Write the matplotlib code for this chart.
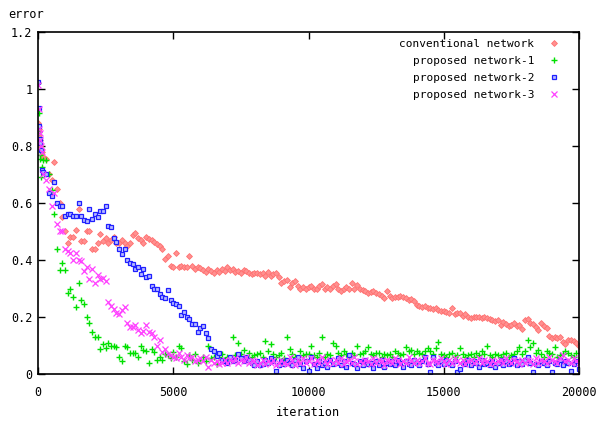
import matplotlib
matplotlib.use("Agg")
import matplotlib.pyplot as plt
from matplotlib.ticker import FuncFormatter

# iteration grid (denser at the start)
iters = [0, 20, 40, 60, 80, 100, 150, 200, 300, 400, 500] + list(range(600, 20001, 100))

conventional = [
    0.88, 0.86, 0.84, 0.82, 0.8, 0.79, 0.78, 0.76, 0.755, 0.7, 0.68,
    0.745, 0.65, 0.6, 0.55,
    0.5, 0.46, 0.48, 0.48, 0.505, 0.58, 0.465, 0.465, 0.5, 0.5,
    0.44, 0.44, 0.46, 0.49, 0.465, 0.477, 0.46, 0.47, 0.48, 0.46,
    0.46, 0.47, 0.46, 0.45, 0.46, 0.487, 0.494, 0.477, 0.47, 0.46,
    0.48, 0.475, 0.47, 0.462, 0.455, 0.45, 0.44, 0.403, 0.414, 0.38,
    0.376, 0.425, 0.376, 0.38, 0.376, 0.375, 0.414, 0.378, 0.37, 0.375,
    0.372, 0.365, 0.358, 0.37, 0.36, 0.355, 0.365, 0.358, 0.37, 0.362,
    0.376, 0.365, 0.37, 0.358, 0.362, 0.355, 0.365, 0.36, 0.354, 0.35,
    0.356, 0.354, 0.35, 0.355, 0.345, 0.358, 0.345, 0.35, 0.354, 0.34,
    0.32, 0.326, 0.33, 0.305, 0.32, 0.326, 0.31, 0.3, 0.305, 0.3,
    0.305, 0.308, 0.3, 0.3, 0.31, 0.315, 0.3, 0.305, 0.3, 0.31,
    0.315, 0.3, 0.29, 0.3, 0.305, 0.3, 0.32, 0.3, 0.312, 0.3,
    0.295, 0.29, 0.285, 0.288, 0.29, 0.285, 0.28, 0.275, 0.265, 0.29,
    0.275, 0.268, 0.27, 0.27, 0.274, 0.27, 0.265, 0.26, 0.263, 0.255,
    0.242, 0.24, 0.235, 0.238, 0.232, 0.23, 0.228, 0.23, 0.225, 0.222,
    0.22, 0.218, 0.213, 0.23, 0.21, 0.215, 0.213, 0.205, 0.21, 0.2,
    0.196, 0.2, 0.2, 0.2, 0.198, 0.2, 0.195, 0.193, 0.19, 0.186,
    0.19, 0.172, 0.182, 0.175, 0.168, 0.172, 0.179, 0.17, 0.172, 0.158,
    0.19, 0.193, 0.18, 0.175, 0.165, 0.154, 0.179, 0.17, 0.16, 0.133,
    0.126, 0.13, 0.128, 0.13, 0.112, 0.105, 0.12, 0.118, 0.116, 0.11,
    0.098,
]

proposed1 = [
    1.02, 0.915, 0.85, 0.77, 0.755, 0.69, 0.725, 0.75, 0.75, 0.7, 0.645,
    0.56, 0.44, 0.365, 0.39,
    0.365, 0.285, 0.3, 0.27, 0.235, 0.32, 0.26, 0.245, 0.2, 0.18,
    0.148, 0.13, 0.13, 0.088, 0.105, 0.09, 0.108, 0.1, 0.1, 0.095,
    0.06, 0.045, 0.1, 0.095, 0.075, 0.072, 0.075, 0.06, 0.1, 0.085,
    0.082, 0.04, 0.088, 0.077, 0.05, 0.06, 0.05, 0.07, 0.065, 0.055,
    0.077, 0.06, 0.098, 0.09, 0.045, 0.035, 0.065, 0.05, 0.07, 0.04,
    0.05, 0.06, 0.045, 0.1, 0.055, 0.06, 0.035, 0.06, 0.07, 0.05,
    0.06, 0.055, 0.13, 0.065, 0.108, 0.07, 0.085, 0.05, 0.075, 0.06,
    0.065, 0.07, 0.075, 0.06, 0.115, 0.08, 0.105, 0.07, 0.06, 0.065,
    0.075, 0.055, 0.13, 0.088, 0.07, 0.06, 0.05, 0.08, 0.065, 0.07,
    0.07, 0.1, 0.065, 0.06, 0.075, 0.13, 0.06, 0.07, 0.065, 0.11,
    0.1, 0.075, 0.065, 0.08, 0.07, 0.06, 0.075, 0.065, 0.1, 0.07,
    0.075, 0.08, 0.095, 0.07, 0.065, 0.075, 0.075, 0.06, 0.07, 0.065,
    0.07, 0.06, 0.08, 0.075, 0.065, 0.07, 0.095, 0.08, 0.085, 0.07,
    0.08, 0.075, 0.07, 0.08, 0.09, 0.08, 0.07, 0.09, 0.113, 0.07,
    0.065, 0.06, 0.07, 0.075, 0.06, 0.065, 0.09, 0.07, 0.06, 0.065,
    0.07, 0.06, 0.075, 0.065, 0.08, 0.07, 0.1, 0.065, 0.06, 0.07,
    0.065, 0.06, 0.07, 0.075, 0.06, 0.065, 0.07, 0.08, 0.095, 0.07,
    0.08, 0.12, 0.095, 0.108, 0.075, 0.085, 0.07, 0.06, 0.08, 0.075,
    0.07, 0.095, 0.06, 0.065, 0.07, 0.08, 0.075, 0.065, 0.06, 0.075,
    0.05,
]

proposed2 = [
    1.025, 0.935, 0.87, 0.825, 0.81, 0.785, 0.715, 0.71, 0.7, 0.635, 0.625,
    0.675, 0.6, 0.59, 0.59,
    0.555, 0.56, 0.56, 0.555, 0.555, 0.6, 0.555, 0.54, 0.537, 0.58,
    0.544, 0.56, 0.55, 0.572, 0.572, 0.59, 0.52, 0.515, 0.477, 0.463,
    0.44, 0.42, 0.44, 0.4, 0.39, 0.385, 0.37, 0.375, 0.35, 0.37,
    0.34, 0.345, 0.31, 0.3, 0.3, 0.28, 0.27, 0.265, 0.295, 0.26,
    0.25, 0.245, 0.24, 0.207, 0.218, 0.2, 0.193, 0.175, 0.175, 0.148,
    0.16, 0.168, 0.145, 0.125, 0.088, 0.08, 0.063, 0.075, 0.05, 0.045,
    0.04, 0.06, 0.045, 0.05, 0.07, 0.055, 0.045, 0.06, 0.05, 0.04,
    0.03, 0.045, 0.03, 0.035, 0.05, 0.04, 0.055, 0.045, 0.01, 0.03,
    0.045, 0.035, 0.05, 0.04, 0.03, 0.05, 0.06, 0.035, 0.02, 0.045,
    0.01, 0.06, 0.035, 0.02, 0.045, 0.03, 0.04, 0.025, 0.05, 0.035,
    0.04, 0.055, 0.03, 0.045, 0.025, 0.065, 0.04, 0.035, 0.02, 0.045,
    0.03, 0.05, 0.035, 0.04, 0.02, 0.045, 0.03, 0.05, 0.025, 0.04,
    0.035, 0.045, 0.03, 0.05, 0.04, 0.025, 0.045, 0.035, 0.03, 0.05,
    0.04, 0.03, 0.045, 0.06, 0.035, 0.008, 0.06, 0.04, 0.03, 0.045,
    0.035, 0.05, 0.04, 0.03, 0.045, 0.008, 0.016, 0.04, 0.035, 0.05,
    0.03, 0.045, 0.04, 0.025, 0.05, 0.035, 0.04, 0.03, 0.045, 0.025,
    0.04, 0.05, 0.03, 0.045, 0.035, 0.04, 0.055, 0.03, 0.045, 0.035,
    0.05, 0.06, 0.04, 0.008, 0.035, 0.03, 0.045, 0.04, 0.03, 0.045,
    0.008, 0.04, 0.035, 0.05, 0.03, 0.045, 0.04, 0.01, 0.035, 0.045,
    0.016,
]

proposed3 = [
    1.015, 0.93, 0.86, 0.845, 0.82, 0.8, 0.78, 0.7, 0.68, 0.65, 0.59,
    0.635, 0.525, 0.5, 0.5,
    0.44, 0.43, 0.425, 0.4, 0.425, 0.4, 0.395, 0.36, 0.375, 0.333,
    0.37, 0.32, 0.347, 0.333, 0.337, 0.326, 0.253, 0.24, 0.228, 0.213,
    0.21, 0.225, 0.235, 0.18, 0.165, 0.165, 0.172, 0.155, 0.145, 0.15,
    0.172, 0.148, 0.143, 0.13, 0.098, 0.12, 0.077, 0.088, 0.07, 0.065,
    0.06, 0.055, 0.073, 0.06, 0.05, 0.065, 0.055, 0.06, 0.045, 0.05,
    0.055, 0.045, 0.06, 0.025, 0.05, 0.04, 0.045, 0.035, 0.04, 0.05,
    0.04, 0.05, 0.045, 0.055, 0.04, 0.05, 0.045, 0.06, 0.04, 0.05,
    0.045, 0.03, 0.04, 0.05, 0.035, 0.045, 0.04, 0.05, 0.03, 0.04,
    0.05, 0.04, 0.035, 0.06, 0.045, 0.03, 0.05, 0.04, 0.055, 0.04,
    0.045, 0.055, 0.035, 0.05, 0.04, 0.06, 0.045, 0.035, 0.05, 0.04,
    0.05, 0.04, 0.055, 0.035, 0.045, 0.05, 0.04, 0.06, 0.035, 0.045,
    0.04, 0.05, 0.045, 0.035, 0.055, 0.04, 0.05, 0.045, 0.03, 0.05,
    0.045, 0.04, 0.055, 0.05, 0.035, 0.045, 0.04, 0.06, 0.045, 0.04,
    0.05, 0.04, 0.045, 0.055, 0.04, 0.035, 0.05, 0.045, 0.04, 0.055,
    0.045, 0.035, 0.05, 0.04, 0.055, 0.045, 0.04, 0.05, 0.035, 0.045,
    0.05, 0.04, 0.045, 0.055, 0.04, 0.05, 0.045, 0.035, 0.05, 0.04,
    0.045, 0.05, 0.04, 0.055, 0.045, 0.04, 0.05, 0.045, 0.035, 0.05,
    0.04, 0.05, 0.045, 0.035, 0.055, 0.04, 0.05, 0.045, 0.04, 0.06,
    0.05, 0.045, 0.04, 0.055, 0.065, 0.045, 0.05, 0.04, 0.055, 0.045,
    0.04,
]

labels = ["conventional network", "proposed network-1",
          "proposed network-2", "proposed network-3"]
xticks = [0, 5000, 10000, 15000, 20000]
yticks = [0, 0.2, 0.4, 0.6, 0.8, 1.0, 1.2]

FONT = "DejaVu Sans Mono"
plt.rcParams["font.family"] = FONT
plt.rcParams["font.size"] = 8

fig = plt.figure(figsize=(5.96, 4.21), dpi=100)
ax = fig.add_axes([38 / 596, 47 / 421, 541 / 596, 342 / 421])

def xs(vals):
    return iters[:len(vals)]

ax.plot(xs(conventional), conventional[:len(iters)], linestyle="none",
        marker="D", markersize=3.0, color="#ff7070", markeredgewidth=0.6,
        markerfacecolor="#ff9090", label=labels[0])
ax.plot(xs(proposed1), proposed1[:len(iters)], linestyle="none",
        marker="+", markersize=5, color="#00e000", markeredgewidth=1.0,
        label=labels[1])
ax.plot(xs(proposed2), proposed2[:len(iters)], linestyle="none",
        marker="s", markersize=3.5, markeredgecolor="#2020ff",
        markerfacecolor="#b8bcff", markeredgewidth=0.9, label=labels[2])
ax.plot(xs(proposed3), proposed3[:len(iters)], linestyle="none",
        marker="x", markersize=4.3, color="#ff40ff", markeredgewidth=0.9,
        label=labels[3])

ax.set_xlim(0, 20000)
ax.set_ylim(0, 1.2)
ax.set_xticks(xticks)
ax.set_yticks(yticks)
ax.yaxis.set_major_formatter(FuncFormatter(lambda v, p: "%g" % v))
ax.tick_params(direction="in", top=True, right=True, length=5, width=1,
               labelsize=8.5)
ax.tick_params(axis="x", pad=9)
ax.tick_params(axis="y", pad=4)
for s in ax.spines.values():
    s.set_linewidth(1.2)

ax.set_xlabel("iteration", fontsize=8.5, labelpad=5)
fig.text(26 / 596, 1 - 14 / 421, "error", ha="center", va="center", fontsize=8.5)

leg = ax.legend(loc="upper right", bbox_to_anchor=(560 / 596, 1 - 39 / 421),
                bbox_transform=fig.transFigure, frameon=False, markerfirst=False,
                handlelength=1.0, handletextpad=1.3, labelspacing=0.62,
                borderpad=0, borderaxespad=0, fontsize=8)

fig.savefig("out.png", dpi=100)
